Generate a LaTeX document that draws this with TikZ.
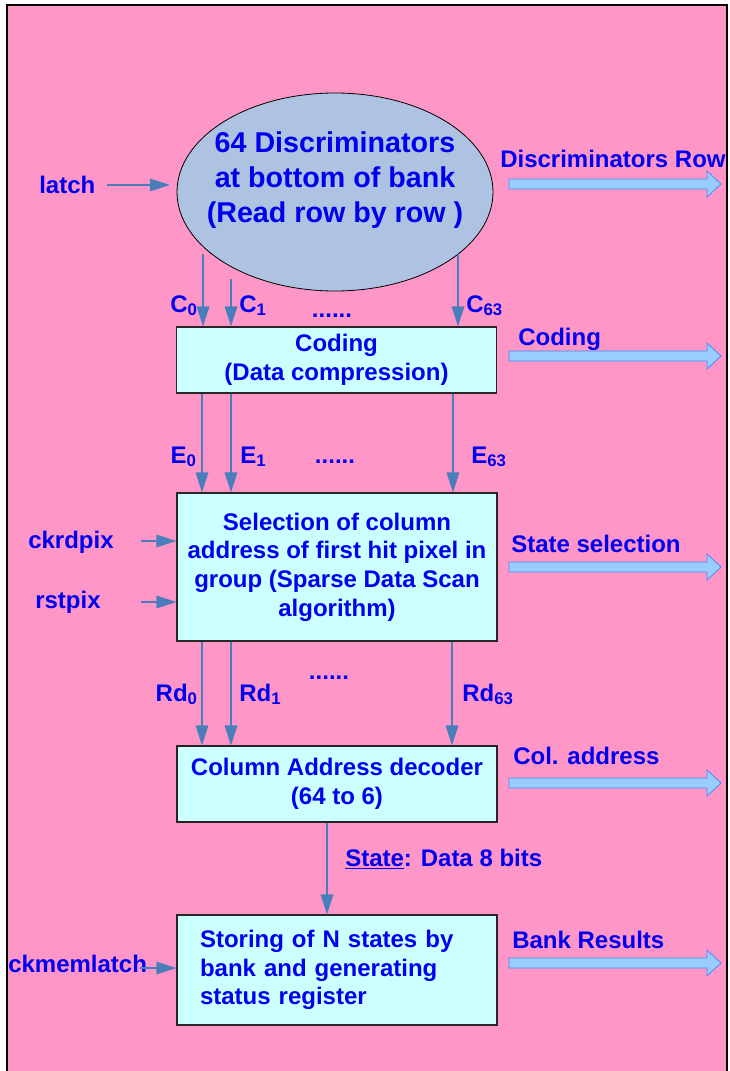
\documentclass[tikz,border=0pt]{standalone}
\usepackage{fontspec}
\setmainfont{Liberation Sans}
\usepackage{xcolor}
\usetikzlibrary{shapes.geometric,arrows.meta}

\definecolor{bgpink}{RGB}{255,150,200}
\definecolor{boxcyan}{RGB}{204,255,255}
\definecolor{discblue}{RGB}{174,194,226}
\definecolor{txtblue}{RGB}{0,0,238}
\definecolor{sigblue}{RGB}{74,126,187}
\definecolor{outfill}{RGB}{153,204,255}
\definecolor{outedge}{RGB}{70,140,240}

\newcommand\lblfont{\fontsize{18}{21.5}\selectfont\bfseries}
\newcommand\disctxtfont{\fontsize{21.5}{26.25}\selectfont\bfseries}

\tikzset{
	lbl/.style={text=txtblue, font=\lblfont, inner sep=0pt},
	box/.style={draw=black!85, line width=0.9pt, fill=boxcyan, text=txtblue,
		font=\lblfont, align=center, minimum width=240pt},
	disc/.style={ellipse, draw=black, line width=0.6pt, fill=discblue,
		minimum width=237pt, minimum height=148.5pt, inner sep=0pt},
	disctxt/.style={text=txtblue, font=\disctxtfont, align=center, inner sep=0pt},
	sig/.style={draw=sigblue, line width=0.9pt, -{Triangle[length=15pt,width=9.5pt]}}
}

% wide output arrow on the right side, #1 = y
\newcommand\outarrow[1]{%
	\filldraw[fill=outfill, draw=outedge, line width=0.6pt]
		(509,#1-5) -- (707,#1-5) -- (707,#1-13) -- (721,#1)
		-- (707,#1+13) -- (707,#1+5) -- (509,#1+5) -- cycle;}

\begin{document}
\begin{tikzpicture}[x=0.75pt,y=-0.75pt]
	\useasboundingbox (0,0) rectangle (729,1071);
	\fill[white] (0,0) rectangle (729,1071);
	\fill[bgpink] (7,5) rectangle (727,1071);
	\draw[black, line width=1pt] (7,1071) -- (7,5) -- (727,5) -- (727,1071);

	% blocks
	\node[disc] (disc) at (335,192) {};
	\node[disctxt] (disctxt) at (335,180) {64 Discriminators\\at bottom of bank\\(Read row by row )};
	\node[box, minimum height=49.5pt] (cod) at (336.5,360) {Coding\\(Data compression)};
	\node[box, minimum height=111pt] (sel) at (337,567) {Selection of column\\address of first hit pixel in\\group (Sparse Data Scan\\algorithm)};
	\node[box, minimum height=57pt] (dec) at (337,784) {Column Address decoder\\(64 to 6)};
	\node[box, align=left, text width=205.5pt, minimum height=82.5pt] (sto) at (337,970) {Storing of N states by\\bank and generating\\status register};

	% column signals
	\foreach \nm/\x/\y in {c0/203/254, c1/231/279, c63/458/254}
		\draw[sig] (\x,\y) coordinate (\nm) -- (\nm |- cod.north);
	\foreach \x in {202,231,453}
		\draw[sig] (cod.south -| \x,0) -- (sel.north -| \x,0);
	\foreach \x in {202,231,452}
		\draw[sig] (sel.south -| \x,0) -- (dec.north -| \x,0);
	\draw[sig] (dec.south -| 327,0) -- (sto.north -| 327,0);

	\node[lbl, anchor=base east] (lc0) at (198,312) {C\textsubscript{0}};
	\node[lbl, anchor=base west] (lc1) at (239,312) {C\textsubscript{1}};
	\node[lbl, anchor=base] (cdots) at (332,317) {......};
	\node[lbl, anchor=base west] (lc63) at (466,312) {C\textsubscript{63}};

	\node[lbl, anchor=base east] (le0) at (197,463) {E\textsubscript{0}};
	\node[lbl, anchor=base west] (le1) at (240,463) {E\textsubscript{1}};
	\node[lbl, anchor=base] (edots) at (335,463) {......};
	\node[lbl, anchor=base west] (le63) at (471,463) {E\textsubscript{63}};

	\node[lbl, anchor=base east] (lrd0) at (198,701) {Rd\textsubscript{0}};
	\node[lbl, anchor=base west] (lrd1) at (239,701) {Rd\textsubscript{1}};
	\node[lbl, anchor=base] (rddots) at (329,679) {......};
	\node[lbl, anchor=base west] (lrd63) at (462,701) {Rd\textsubscript{63}};

	\node[lbl, anchor=base west] (state) at (345,866) {\underline{State}: Data 8 bits};

	% inputs on the left
	\node[lbl, anchor=base west] (latch) at (39,193) {latch};
	\coordinate (latchin) at (107,185);
	\draw[sig, shorten >=5pt] (latchin) -- (disc.west |- latchin);
	\node[lbl, anchor=base west] (ckrd) at (28,548) {ckrdpix};
	\coordinate (ckrdin) at (141,541);
	\draw[sig] (ckrdin) -- (sel.west |- ckrdin);
	\node[lbl, anchor=base west] (rst) at (35,608) {rstpix};
	\coordinate (rstin) at (141,602);
	\draw[sig] (rstin) -- (sel.west |- rstin);
	\node[lbl, anchor=base west] (ckmem) at (8,972) {ckmemlatch};
	\coordinate (ckmemin) at (140,968);
	\draw[sig] (ckmemin) -- (sto.west |- ckmemin);

	% outputs on the right
	\node[lbl, anchor=base west] (odisc) at (500,167) {Discriminators Row};
	\outarrow{184}
	\node[lbl, anchor=base west] (ocod) at (518,345) {Coding};
	\outarrow{356}
	\node[lbl, anchor=base west] (osel) at (511,552) {State selection};
	\outarrow{567}
	\node[lbl, anchor=base west] (odec) at (513,764) {Col. address};
	\outarrow{783}
	\node[lbl, anchor=base west] (osto) at (512,948) {Bank Results};
	\outarrow{963}
\end{tikzpicture}
\end{document}
